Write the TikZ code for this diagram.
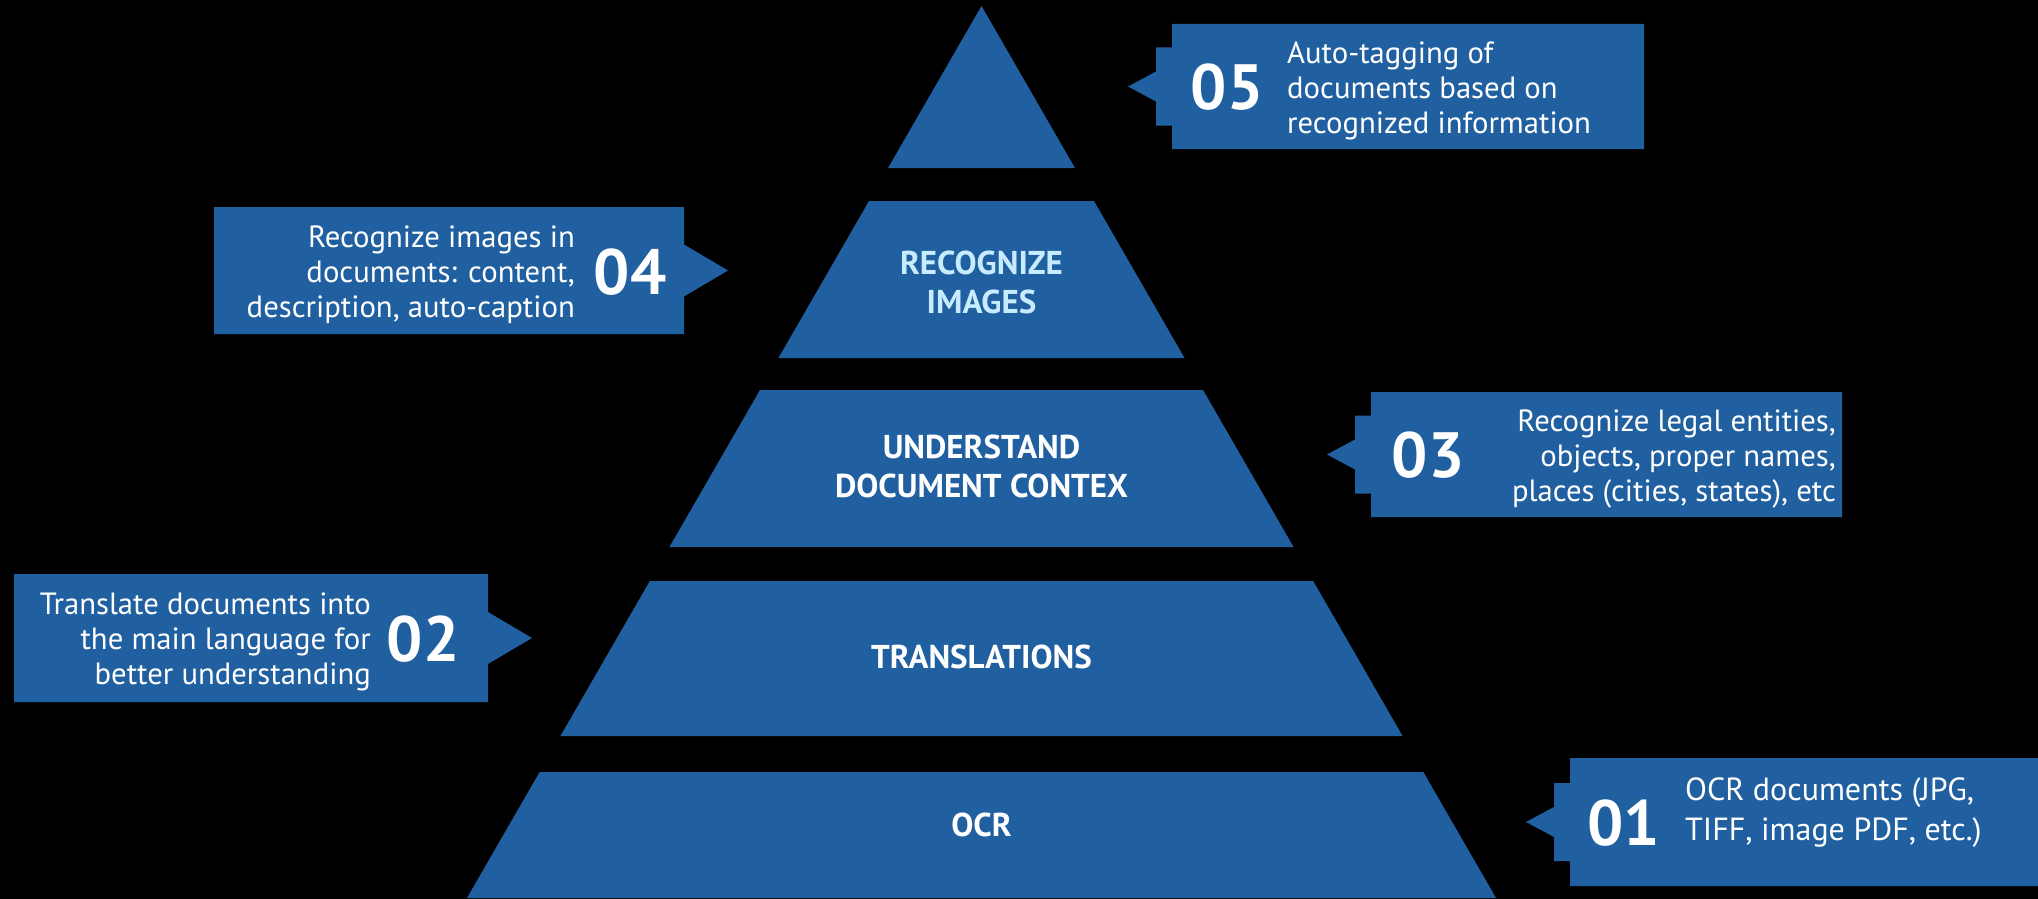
\documentclass[tikz,border=0pt]{standalone}
\usepackage{fontspec}
\setmainfont{PT Sans}
\usepackage{tikz}

\definecolor{pyrblue}{RGB}{33,96,160}
\definecolor{paleblue}{RGB}{200,236,255}

\begin{document}
\begin{tikzpicture}[x=1pt,y=-1pt,
  layertext/.style={font=\bfseries\fontsize{33}{39}\selectfont, text=white, align=center, inner sep=0pt},
  numtext/.style={font=\bfseries\fontsize{64}{64}\selectfont, text=white, inner sep=0pt},
  calltext/.style={font=\fontsize{30.7}{35}\selectfont, text=white, inner sep=0pt}]

\def\xmin{0}
  \def\xmax{2038}
  \def\ymin{0}
  \def\ymax{899}
  \def\apex{981.5}
  \def\slope{0.5768}

% black page
\fill[black] (\xmin,\ymin) rectangle (\xmax,\ymax);
\useasboundingbox (\xmin,\ymin) rectangle (\xmax,\ymax);

% pyramid, cut in five layers
\foreach \ya/\yb in {6/168, 201/358, 390/547, 581/736, 772/898}{
    \pgfmathsetmacro\wa{\slope*(\ya-6)}
    \pgfmathsetmacro\wb{\slope*(\yb-6)}
    \fill[pyrblue] (\apex-\wa,\ya) -- (\apex+\wa,\ya) -- (\apex+\wb,\yb) -- (\apex-\wb,\yb) -- cycle;
}

\node[layertext, text=paleblue] (images) at (\apex,282) {RECOGNIZE\\IMAGES};
\node[layertext] (context) at (\apex,466) {UNDERSTAND\\DOCUMENT CONTEX};
\node[layertext] (translations) at (\apex,657) {TRANSLATIONS};
\node[layertext] (ocr) at (\apex,825) {OCR};

% callouts on the right, pointing left
\foreach \lx/\ty/\rx/\by in {1172/24/1644/149, 1371/392/1842/517, 1570/758/2040/886}{
    \pgfmathsetmacro\cy{(\ty+\by)/2}
    \fill[pyrblue] (\lx,\ty) -- (\rx,\ty) -- (\rx,\by) -- (\lx,\by) -- (\lx,\cy+39)
        -- (\lx-16,\cy+39) -- (\lx-16,\cy+15) -- (\lx-44,\cy) -- (\lx-16,\cy-15)
        -- (\lx-16,\cy-39) -- (\lx,\cy-39) -- cycle;
}

% callouts on the left, pointing right
\foreach \lx/\ty/\rx/\by in {214/207/684/334, 14/574/488/702}{
    \pgfmathsetmacro\cy{(\ty+\by)/2}
    \fill[pyrblue] (\lx,\ty) -- (\rx,\ty) -- (\rx,\cy-26) -- (\rx+44,\cy)
        -- (\rx,\cy+26) -- (\rx,\by) -- (\lx,\by) -- cycle;
}

% numbers and texts
\node[numtext] (n05) at (1227,87) {05};
\node[calltext, align=left, anchor=west] (t05) at (1287,90.5) {Auto-tagging of\\documents based on\\recognized information};

\node[numtext] (n04) at (630,272) {04};
\node[calltext, align=right, anchor=east] (t04) at (575,275) {Recognize images in\\documents: content,\\description, auto-caption};

\node[numtext] (n03) at (1428,455) {03};
\node[calltext, align=right, anchor=east] (t03) at (1836,459.5) {Recognize legal entities,\\objects, proper names,\\places (cities, states), etc};

\node[numtext] (n02) at (423,639) {02};
\node[calltext, align=right, anchor=east] (t02) at (371,642) {Translate documents into\\the main language for\\better understanding};

\node[numtext] (n01) at (1623.5,823) {01};
\node[calltext, font=\fontsize{32}{40}\selectfont, align=left, anchor=west] (t01) at (1685,813) {OCR documents (JPG,\\TIFF, image PDF, etc.)};
\end{tikzpicture}
\end{document}
